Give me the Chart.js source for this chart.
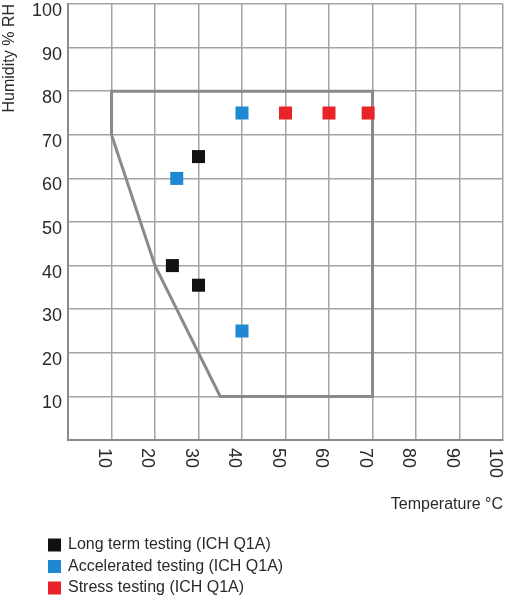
<!DOCTYPE html>
<html>
<head>
<meta charset="utf-8">
<script src="https://cdn.jsdelivr.net/npm/chart.js@4"></script>
<style>
  html, body { margin: 0; padding: 0; background: #fff; }
  canvas { display: block; }
</style>
</head>
<body>
<canvas id="chart" width="507" height="600"></canvas>
<script>
const longTermTemp = [30, 24, 30];
const longTermHum = [65, 40, 35.5];
const acceleratedTemp = [25, 40, 40];
const acceleratedHum = [60, 75, 25];
const stressTemp = [50, 60, 69];
const stressHum = [75, 75, 75];
const boxTemp = [10, 10, 70, 70, 35, 20, 10];
const boxHum = [70, 80, 80, 10, 10, 40, 70];
const xTickLabels = [10, 20, 30, 40, 50, 60, 70, 80, 90, 100];
const seriesNames = ['Long term testing (ICH Q1A)', 'Accelerated testing (ICH Q1A)', 'Stress testing (ICH Q1A)'];
const seriesColors = ['#111111', '#1f88d2', '#e8232a'];

const pts = (xs, ys) => xs.map((x, i) => ({ x: x, y: ys[i] }));
const textColor = '#2a2a2a';
const fontFamily = '"Liberation Sans", Arial, sans-serif';

// rotated x labels + legend list drawn by hand
const extras = {
  id: 'extras',
  afterDraw(chart) {
    const ctx = chart.ctx;
    const xs = chart.scales.x;
    ctx.save();
    ctx.fillStyle = textColor;
    ctx.font = '18px ' + fontFamily;
    ctx.textAlign = 'left';
    ctx.textBaseline = 'middle';
    xTickLabels.forEach(v => {
      const px = xs.getPixelForValue(v);
      ctx.save();
      ctx.translate(px - 8, chart.chartArea.bottom + 8);
      ctx.rotate(Math.PI / 2);
      ctx.fillText(String(v), 0, 0);
      ctx.restore();
    });
    ctx.font = '16px ' + fontFamily;
    seriesNames.forEach((name, i) => {
      const y = 545 + i * 21.5;
      ctx.fillStyle = seriesColors[i];
      ctx.fillRect(48, y - 6.5, 13, 13);
      ctx.fillStyle = textColor;
      ctx.fillText(name, 68, y);
    });
    ctx.restore();
  }
};

const pointDataset = (i, xs, ys) => ({
  label: seriesNames[i],
  data: pts(xs, ys),
  pointStyle: 'rect',
  pointRadius: 9.2,
  pointHoverRadius: 9.2,
  pointBorderWidth: 0,
  backgroundColor: seriesColors[i],
  borderColor: seriesColors[i],
  showLine: false
});

new Chart(document.getElementById('chart'), {
  type: 'scatter',
  data: {
    datasets: [
      pointDataset(0, longTermTemp, longTermHum),
      pointDataset(1, acceleratedTemp, acceleratedHum),
      pointDataset(2, stressTemp, stressHum),
      {
        label: 'range',
        data: pts(boxTemp, boxHum),
        showLine: true,
        borderColor: '#8a8a8a',
        borderWidth: 3,
        pointRadius: 0,
        fill: false,
        tension: 0,
        order: 5
      }
    ]
  },
  options: {
    responsive: false,
    animation: false,
    layout: { autoPadding: false, padding: { top: 4, right: 4, left: 0, bottom: 80 } },
    plugins: {
      legend: { display: false },
      tooltip: { enabled: false }
    },
    scales: {
      x: {
        type: 'linear',
        min: 0,
        max: 100,
        afterFit: s => { s.height = 80; s.paddingLeft = 0; s.paddingRight = 0; },
        ticks: { display: false, stepSize: 10 },
        grid: { color: '#a3a3a3', lineWidth: 1.5, drawTicks: false },
        border: { color: '#8a8a8a', width: 2 },
        title: {
          display: true,
          text: 'Temperature °C',
          align: 'end',
          color: textColor,
          font: { family: fontFamily, size: 16 },
          padding: { top: 0, bottom: 6 }
        }
      },
      y: {
        type: 'linear',
        min: 0,
        max: 100,
        afterFit: s => { s.width = 68; s.paddingTop = 0; s.paddingBottom = 0; },
        ticks: {
          stepSize: 10,
          autoSkip: false,
          padding: 6,
          labelOffset: 7,
          color: textColor,
          font: { family: fontFamily, size: 18 },
          callback: v => (v === 0 ? '' : v)
        },
        grid: { color: '#a3a3a3', lineWidth: 1.5, drawTicks: false },
        border: { color: '#8a8a8a', width: 2 },
        title: {
          display: true,
          text: 'Humidity % RH',
          align: 'end',
          color: textColor,
          font: { family: fontFamily, size: 16 },
          padding: { top: 0, bottom: 0 }
        }
      }
    }
  },
  plugins: [extras]
});
</script>
</body>
</html>
